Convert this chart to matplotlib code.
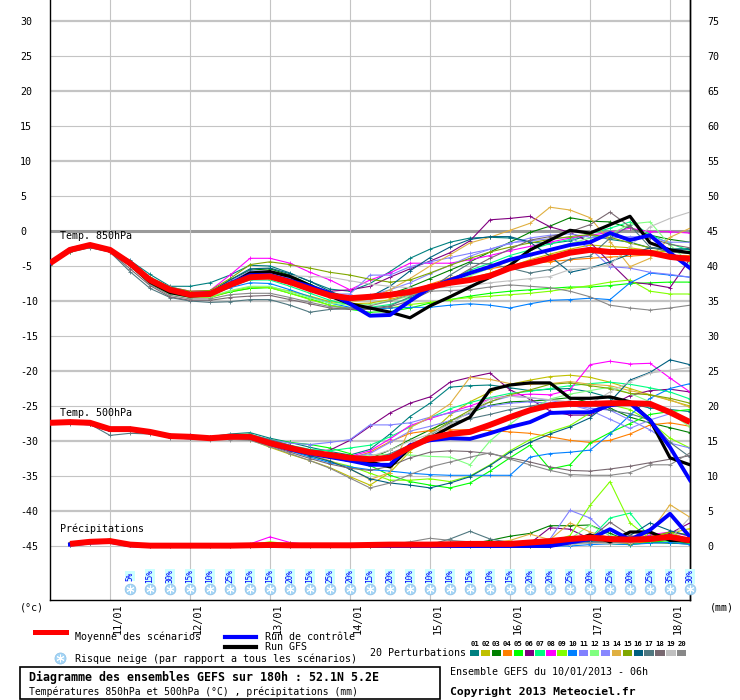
import numpy as np
import matplotlib
matplotlib.use('Agg')
import matplotlib.pyplot as plt
from matplotlib.transforms import ScaledTranslation
from matplotlib.lines import Line2D
from matplotlib.patches import Rectangle

plt.rcParams['font.family'] = ['DejaVu Sans Mono']
plt.rcParams['axes.unicode_minus'] = False

nan = np.nan
hours = np.arange(33) * 6  # from 10/01 06h, 6-hourly to 18/01 06h
day_hours = [18, 42, 66, 90, 114, 138, 162, 186]
day_labels = ['11/01', '12/01', '13/01', '14/01', '15/01', '16/01', '17/01', '18/01']

member_colors = ['#008080', '#c0c000', '#008000', '#ff8000', '#00ff00', '#800080', '#00ff80',
                 '#ff00ff', '#80ff00', '#0080ff', '#8080ff', '#80ff80', '#8888ff', '#e0b040',
                 '#80a800', '#006080', '#507880', '#786870', '#c0c0c0', '#888888']

# ---------------- Temperature 850 hPa (°C) ----------------
t850_mean = [-4.6, -2.7, -2.0, -2.7, -4.6, -7.0, -8.4, -9.1, -9.0, -7.7, -6.6, -6.5, -7.3, -8.3, -9.2, -9.6, -9.4,
             -9.1, -8.7, -8.0, -7.4, -7.0, -6.4, -5.3, -4.6, -3.9, -3.1, -2.7, -3.0, -3.0, -3.1, -3.7, -4.0]
t850_ctrl = [-4.6, -2.6, -2.0, -2.7, -4.6, -7.0, -8.3, -9.0, -8.9, -7.5, -6.3, -6.3, -7.1, -7.9, -8.9, -10.4, -12.1,
             -12.0, -10.0, -8.1, -7.0, -6.0, -5.1, -4.1, -3.4, -2.7, -2.0, -1.6, -0.3, -1.3, -0.6, -3.1, -5.3]
t850_gfs = [-4.6, -2.6, -2.0, -2.7, -4.8, -7.3, -8.8, -9.3, -9.1, -7.6, -6.0, -5.8, -6.5, -7.8, -9.3, -10.4, -11.0,
            -11.6, -12.4, -10.7, -9.4, -8.0, -6.6, -4.9, -2.7, -1.3, 0.1, -0.3, 0.9, 2.1, -1.7, -2.7, -3.1]

t850_m01 = [-4.5, -2.5, -2.0, -2.6, -4.2, -6.2, -7.9, -7.9, -7.4, -6.3, -4.9, -5.0, -6.0, -7.2, -8.3, -8.6, -7.5, -5.8, -3.9, -2.6, -1.6, -1.0, -0.9, -1.0, -1.6, -1.8, -1.4, -0.6, -1.2, -1.6, -2.4, -2.6, -2.5]
t850_m02 = [-4.6, -2.7, -2.1, -2.8, -4.8, -7.5, -8.9, -9.4, -9.5, -8.7, -8.2, -8.0, -8.6, -9.3, -10.1, -10.4, -10.3, -9.8, -9.0, -8.3, -7.5, -6.8, -6.0, -5.1, -4.1, -3.3, -2.6, -2.0, -2.2, -2.4, -2.8, -3.0, -3.2]
t850_m03 = [-4.5, -2.6, -2.0, -2.7, -4.5, -6.8, -8.2, -8.8, -8.7, -7.0, -5.6, -5.4, -6.3, -7.6, -8.8, -9.5, -9.6, -9.0, -8.0, -6.8, -5.6, -4.4, -3.0, -1.6, -0.2, 0.7, 1.9, 1.4, 1.3, 0.4, -0.6, -1.2, -1.6]
t850_m04 = [-4.6, -2.6, -1.9, -2.6, -4.5, -6.9, -8.4, -9.2, -9.2, -7.8, -6.7, -6.5, -7.2, -8.0, -8.8, -9.4, -9.7, -9.5, -8.8, -7.6, -6.7, -6.0, -5.4, -4.9, -4.6, -4.4, -4.1, -3.9, -3.7, -3.6, -3.4, -3.5, -3.5]
t850_m05 = [-4.8, -3.0, -2.3, -2.8, -4.8, -7.4, -8.9, -9.4, -9.4, -8.7, -8.2, -8.1, -8.9, -9.7, -10.6, -11.2, -11.6, -11.5, -11.0, -10.3, -9.8, -9.3, -8.9, -8.6, -8.4, -8.2, -8.0, -8.0, -7.8, -7.5, -7.4, -7.3, -7.3]
t850_m06 = [-4.6, -2.6, -2.0, -2.7, -4.6, -6.9, -8.3, -9.0, -9.0, -7.8, -6.8, -6.8, -7.6, -8.3, -8.6, -8.4, -7.9, -6.6, -5.4, -4.3, -3.1, -1.4, 1.6, 1.8, 2.1, 0.6, -0.2, -1.6, -4.5, -7.3, -7.6, -8.1, -4.0]
t850_m07 = [-4.6, -2.7, -2.1, -2.7, -4.6, -7.1, -8.6, -9.2, -9.1, -7.9, -7.0, -7.0, -7.9, -8.9, -9.9, -10.6, -10.9, -10.5, -9.6, -8.3, -7.0, -5.6, -4.6, -3.5, -2.7, -1.8, -1.2, -0.4, 0.4, 1.3, -0.5, -1.8, -2.8]
t850_m08 = [-4.6, -2.6, -2.0, -2.6, -4.4, -6.7, -8.0, -8.6, -8.5, -6.3, -3.9, -3.9, -4.6, -5.9, -7.0, -8.4, -7.0, -6.0, -4.6, -4.6, -4.6, -4.1, -3.5, -2.8, -2.2, -1.6, -1.0, -0.6, -0.2, 0.4, -0.1, -0.1, -0.3]
t850_m09 = [-4.7, -2.8, -2.2, -2.8, -4.7, -7.2, -8.8, -9.5, -9.5, -8.6, -8.0, -8.1, -8.9, -9.8, -10.6, -11.0, -11.2, -11.0, -10.5, -10.2, -9.8, -9.5, -9.3, -9.1, -8.9, -8.6, -8.2, -7.8, -7.3, -7.0, -8.6, -9.0, -9.0]
t850_m10 = [-4.6, -2.7, -2.1, -2.8, -4.7, -7.1, -8.5, -9.2, -9.2, -8.1, -7.4, -7.5, -8.4, -9.4, -10.3, -10.9, -11.2, -11.0, -10.9, -10.9, -10.6, -10.4, -10.6, -11.0, -10.4, -9.9, -9.8, -9.6, -9.8, -7.4, -6.0, -6.3, -6.6]
t850_m11 = [-4.5, -2.5, -1.9, -2.6, -4.3, -6.6, -8.0, -8.7, -8.7, -7.4, -6.3, -6.5, -7.5, -8.4, -9.0, -9.0, -6.3, -6.3, -5.1, -4.4, -3.8, -3.2, -2.6, -1.7, -1.4, -1.1, -0.9, -2.5, -5.1, -5.3, -5.9, -6.2, -6.6]
t850_m12 = [-4.7, -2.9, -2.3, -2.9, -4.9, -7.6, -9.0, -9.5, -9.4, -8.5, -7.9, -7.9, -8.7, -9.5, -10.3, -10.6, -10.5, -10.0, -9.3, -8.4, -7.4, -6.4, -5.3, -4.3, -3.5, -2.6, -1.8, -1.0, -0.5, 1.0, 1.3, -2.0, -4.6]
t850_m13 = [-4.6, -2.6, -2.0, -2.7, -4.5, -6.8, -8.2, -8.9, -8.9, -7.2, -5.7, -5.8, -6.8, -7.9, -8.9, -9.6, -9.2, -8.4, -7.4, -6.1, -4.9, -3.6, -2.6, -1.8, -1.0, -0.6, -0.4, -0.9, -1.0, -0.8, -0.9, -1.6, -1.6]
t850_m14 = [-4.6, -2.5, -1.8, -2.6, -4.5, -7.0, -8.5, -9.2, -9.1, -7.9, -6.9, -6.8, -7.5, -8.4, -9.5, -10.2, -9.7, -8.4, -6.8, -5.0, -3.4, -1.7, -0.9, 0.1, 1.1, 3.4, 3.0, 1.9, -1.5, -5.1, -3.9, -0.9, 0.4]
t850_m15 = [-4.6, -2.6, -2.0, -2.6, -4.4, -6.6, -8.0, -8.6, -8.5, -6.8, -4.8, -4.4, -4.8, -5.3, -5.9, -6.3, -6.9, -7.3, -7.0, -6.0, -4.9, -3.9, -3.0, -2.3, -1.7, -1.2, -0.8, -0.5, -0.9, -1.7, -2.4, -2.9, -3.0]
t850_m16 = [-4.6, -2.6, -2.0, -2.7, -4.6, -7.0, -8.4, -9.0, -8.8, -7.0, -5.4, -5.3, -6.1, -7.2, -8.6, -9.7, -9.4, -7.9, -5.7, -3.8, -2.3, -1.2, -0.8, -0.8, -1.6, -3.6, -5.9, -5.3, -4.4, -3.3, -2.4, -2.6, -2.6]
t850_m17 = [-4.8, -3.0, -2.4, -3.0, -5.8, -8.2, -9.5, -10.0, -10.2, -10.1, -9.8, -9.8, -10.6, -11.6, -11.2, -11.1, -11.0, -10.7, -9.4, -8.3, -6.3, -4.6, -4.7, -5.3, -6.0, -5.5, -4.0, -3.6, -1.0, 0.8, -2.3, -3.0, -3.2]
t850_m18 = [-4.7, -2.9, -2.3, -3.0, -5.4, -7.8, -9.4, -9.9, -9.9, -9.5, -9.3, -9.2, -9.8, -10.4, -11.0, -11.2, -11.2, -10.8, -10.0, -8.6, -7.1, -5.4, -3.9, -2.6, -1.3, -0.8, -0.1, 0.9, 2.7, 0.6, -1.0, -1.9, -2.4]
t850_m19 = [-4.6, -2.7, -2.0, -2.7, -4.5, -6.8, -8.2, -8.8, -8.7, -7.3, -6.1, -6.2, -6.4, -6.5, -6.6, -7.1, -7.6, -7.9, -8.1, -8.2, -8.0, -7.8, -7.4, -7.1, -6.8, -6.5, -5.5, -5.3, -4.8, -2.2, 0.6, 1.8, 2.7]
t850_m20 = [-4.7, -2.9, -2.3, -2.9, -4.9, -7.6, -9.2, -9.7, -9.7, -9.1, -8.9, -8.9, -9.5, -10.2, -10.8, -11.0, -10.7, -10.0, -9.1, -8.6, -8.5, -8.4, -8.0, -7.7, -7.9, -8.1, -8.6, -9.4, -10.6, -11.0, -11.3, -11.0, -10.6]

# ---------------- Temperature 500 hPa (°C) ----------------
t500_mean = [-27.4, -27.3, -27.4, -28.3, -28.3, -28.7, -29.3, -29.4, -29.6, -29.4, -29.4, -30.3, -31.0, -31.6, -32.0, -32.4, -32.6,
             -32.4, -30.9, -29.6, -29.0, -28.7, -27.7, -26.6, -25.6, -24.9, -24.7, -24.7, -24.6, -24.6, -24.7, -25.9, -27.3]
t500_ctrl = [-27.4, -27.3, -27.5, -28.4, -28.3, -28.7, -29.3, -29.5, -29.6, -29.4, -29.5, -30.4, -31.2, -31.8, -32.3, -32.8, -33.4,
             -33.4, -30.6, -29.9, -29.6, -29.7, -28.9, -28.0, -27.3, -26.0, -25.9, -25.9, -24.9, -24.6, -27.0, -30.9, -35.6]
t500_gfs = [-27.4, -27.3, -27.4, -28.3, -28.4, -28.8, -29.3, -29.4, -29.6, -29.4, -29.3, -30.2, -31.0, -31.6, -32.2, -32.8, -33.0,
            -33.7, -31.0, -29.6, -28.0, -26.6, -22.7, -22.0, -21.7, -21.7, -23.9, -23.9, -23.7, -24.4, -27.0, -32.4, -33.4]

t500_m01 = [-27.5, -27.4, -27.3, -28.6, -28.5, -28.8, -29.2, -29.3, -29.4, -29.0, -28.8, -29.6, -30.2, -30.9, -31.5, -32.0, -31.2, -29.0, -26.5, -24.6, -22.3, -22.1, -22.0, -22.4, -22.8, -22.6, -22.5, -23.0, -23.8, -24.6, -25.3, -25.5, -25.8]
t500_m02 = [-27.3, -27.3, -27.4, -28.2, -28.3, -28.8, -29.4, -29.5, -29.7, -29.6, -29.8, -30.9, -31.9, -32.8, -33.8, -35.1, -36.3, -34.5, -31.5, -28.9, -26.3, -24.4, -23.0, -21.9, -21.3, -20.8, -20.6, -20.9, -21.6, -22.5, -23.4, -24.2, -25.0]
t500_m03 = [-27.4, -27.3, -27.4, -28.3, -28.4, -28.7, -29.2, -29.4, -29.6, -29.5, -29.5, -30.5, -31.2, -31.9, -32.4, -32.8, -32.5, -31.3, -29.8, -28.4, -27.1, -26.0, -24.9, -24.4, -24.3, -24.1, -23.8, -24.5, -25.3, -26.6, -27.4, -28.1, -28.8]
t500_m04 = [-27.4, -27.2, -27.3, -28.2, -28.3, -28.6, -29.2, -29.3, -29.4, -29.3, -29.2, -30.1, -30.8, -31.5, -32.1, -32.5, -31.6, -30.1, -28.9, -28.5, -28.4, -28.4, -28.5, -28.7, -28.9, -29.4, -29.9, -30.2, -29.9, -29.0, -27.7, -27.4, -27.9]
t500_m05 = [-27.6, -27.4, -27.5, -28.5, -28.4, -28.8, -29.3, -29.4, -29.6, -29.2, -29.1, -29.8, -30.2, -30.5, -31.0, -31.8, -33.5, -34.9, -35.8, -36.3, -36.7, -36.0, -34.3, -32.4, -30.6, -34.0, -33.4, -30.3, -28.8, -27.5, -26.2, -25.8, -25.5]
t500_m06 = [-27.3, -27.2, -27.3, -28.2, -28.2, -28.6, -29.1, -29.2, -29.4, -29.2, -29.3, -30.2, -30.8, -31.4, -31.3, -29.9, -27.9, -26.0, -24.6, -23.7, -21.6, -20.9, -20.3, -22.7, -24.0, -25.7, -26.3, -26.3, -25.0, -23.5, -22.8, -22.6, -23.0]
t500_m07 = [-27.4, -27.3, -27.4, -28.3, -28.2, -28.6, -29.2, -29.3, -29.5, -29.1, -29.0, -29.9, -30.6, -31.2, -31.4, -31.0, -30.6, -29.4, -28.0, -26.7, -25.4, -24.5, -23.8, -23.2, -22.9, -22.5, -22.1, -21.8, -21.6, -21.9, -22.4, -23.0, -24.0]
t500_m08 = [-27.4, -27.3, -27.3, -28.2, -28.3, -28.7, -29.3, -29.4, -29.5, -29.3, -29.3, -30.1, -30.9, -31.5, -32.0, -32.2, -31.4, -29.7, -27.8, -26.8, -25.9, -25.0, -24.0, -23.5, -23.3, -23.4, -22.7, -19.1, -18.6, -19.0, -18.9, -21.0, -23.0]
t500_m09 = [-27.5, -27.4, -27.5, -28.4, -28.4, -28.8, -29.4, -29.5, -29.6, -29.5, -29.6, -30.5, -31.3, -32.1, -32.9, -33.6, -34.6, -35.6, -35.6, -35.4, -35.8, -35.0, -33.4, -31.4, -29.8, -28.7, -27.8, -26.0, -24.8, -25.5, -27.2, -29.6, -31.0]
t500_m10 = [-27.4, -27.3, -27.4, -28.4, -28.3, -28.7, -29.3, -29.4, -29.6, -29.5, -29.6, -30.5, -31.4, -32.3, -33.1, -33.7, -34.1, -34.3, -34.6, -34.8, -34.9, -34.9, -34.9, -34.9, -32.3, -31.8, -31.6, -31.3, -29.0, -26.3, -23.9, -22.5, -21.8]
t500_m11 = [-27.4, -27.2, -27.3, -28.2, -28.2, -28.6, -29.2, -29.3, -29.5, -29.2, -29.1, -29.8, -30.3, -30.5, -30.2, -29.8, -27.7, -27.7, -27.4, -26.6, -26.0, -25.4, -25.0, -24.6, -24.4, -24.6, -24.9, -25.3, -25.6, -27.0, -28.4, -30.3, -31.0]
t500_m12 = [-27.4, -27.3, -27.4, -28.3, -28.4, -28.8, -29.3, -29.4, -29.6, -29.4, -29.4, -30.2, -30.9, -31.5, -32.0, -32.3, -32.0, -31.9, -32.0, -32.2, -32.3, -33.4, -30.0, -27.6, -25.5, -24.0, -23.3, -22.8, -22.3, -23.2, -24.4, -26.0, -28.0]
t500_m13 = [-27.4, -27.3, -27.4, -28.3, -28.3, -28.7, -29.3, -29.4, -29.6, -29.4, -29.4, -30.3, -31.0, -31.6, -32.0, -32.3, -31.8, -30.2, -28.6, -27.9, -27.1, -26.1, -24.4, -23.6, -23.8, -24.2, -24.8, -25.6, -26.9, -28.2, -27.0, -26.1, -27.0]
t500_m14 = [-27.4, -27.3, -27.3, -28.2, -28.3, -28.7, -29.3, -29.4, -29.6, -29.4, -29.4, -30.4, -31.2, -32.0, -32.8, -34.0, -35.5, -34.5, -28.1, -26.6, -24.7, -20.9, -21.2, -21.8, -21.9, -21.8, -21.5, -21.9, -22.1, -22.8, -23.4, -24.1, -25.2]
t500_m15 = [-27.4, -27.3, -27.4, -28.3, -28.3, -28.7, -29.3, -29.4, -29.6, -29.4, -29.4, -30.3, -31.0, -31.7, -32.2, -32.6, -32.8, -32.5, -30.8, -29.0, -27.2, -25.6, -24.4, -23.4, -22.7, -21.9, -21.7, -22.1, -22.5, -23.2, -23.4, -23.9, -24.6]
t500_m16 = [-27.5, -27.4, -27.5, -28.5, -28.5, -28.9, -29.4, -29.5, -29.7, -29.6, -29.6, -30.5, -31.3, -32.1, -32.9, -34.0, -35.4, -36.0, -36.3, -36.7, -36.0, -35.1, -33.5, -31.6, -30.2, -29.0, -28.0, -26.7, -24.4, -21.3, -20.2, -18.4, -19.1]
t500_m17 = [-27.6, -27.5, -27.6, -29.2, -28.9, -29.0, -29.5, -29.6, -29.7, -29.4, -29.2, -29.8, -30.6, -31.5, -32.2, -32.7, -32.8, -31.8, -30.6, -29.2, -27.4, -26.8, -26.2, -25.5, -25.0, -24.6, -24.3, -24.8, -25.6, -26.1, -27.0, -30.2, -32.3]
t500_m18 = [-27.5, -27.4, -27.5, -28.5, -28.5, -28.9, -29.4, -29.5, -29.7, -29.6, -29.7, -30.7, -31.6, -32.5, -33.3, -33.9, -34.2, -33.6, -32.4, -31.6, -31.4, -31.5, -31.8, -32.4, -33.0, -33.7, -34.2, -34.3, -34.0, -33.6, -33.1, -32.6, -32.1]
t500_m19 = [-27.4, -27.3, -27.4, -28.3, -28.3, -28.7, -29.3, -29.4, -29.6, -29.4, -29.4, -30.2, -31.0, -31.7, -32.3, -32.8, -32.2, -31.3, -30.0, -29.0, -27.6, -25.8, -24.0, -23.6, -23.8, -24.1, -24.4, -24.7, -23.0, -21.5, -20.3, -19.9, -19.5]
t500_m20 = [-27.5, -27.4, -27.5, -28.4, -28.5, -28.9, -29.4, -29.6, -29.8, -29.8, -29.9, -30.8, -31.8, -32.8, -33.9, -35.3, -36.7, -36.0, -34.8, -33.7, -33.0, -32.3, -31.7, -32.6, -33.4, -34.2, -34.8, -34.9, -34.9, -34.5, -33.4, -33.4, -31.7]

# ---------------- Precipitation (mm / 6h) ----------------
pr_mean = [nan, 0.3, 0.6, 0.7, 0.2, 0.05, 0.05, 0.05, 0.05, 0.05, 0.1, 0.15, 0.1, 0.1, 0.1, 0.1, 0.15, 0.2, 0.2, 0.2, 0.25,
           0.3, 0.3, 0.3, 0.5, 0.7, 1.0, 1.2, 1.0, 0.9, 1.0, 1.3, 0.8]
pr_ctrl = [nan, 0.2, 0.5, 0.6, 0.1, 0, 0, 0, 0, 0, 0, 0, 0, 0, 0, 0, 0, 0, 0, 0, 0, 0, 0, 0, 0, 0, 0.5, 1.0, 2.4, 0.9, 2.3, 4.6, 1.3]
pr_gfs = [nan, 0.3, 0.6, 0.8, 0.2, 0, 0, 0, 0, 0, 0, 0, 0, 0, 0, 0, 0, 0, 0, 0, 0, 0, 0, 0, 0, 0, 0.6, 1.6, 0.6, 2.0, 2.0, 0.8, 0.7]

pr_m01 = [nan, 0.3, 0.7, 0.8, 0.1, 0, 0, 0, 0, 0, 0, 0, 0, 0, 0, 0, 0, 0, 0, 0, 0, 0, 0, 0, 0, 0.2, 0.3, 0.6, 0.4, 0.3, 0.8, 1.2, 0.6]
pr_m02 = [nan, 0.2, 0.5, 0.6, 0.2, 0, 0, 0, 0, 0, 0, 0, 0, 0, 0, 0, 0, 0, 0, 0, 0, 0, 0, 0, 0, 0, 0.3, 0.5, 0.8, 1.0, 1.4, 1.8, 2.5]
pr_m03 = [nan, 0.3, 0.6, 0.9, 0.3, 0, 0, 0, 0, 0, 0, 0, 0, 0, 0, 0, 0, 0, 0, 0, 0, 0.3, 0.8, 1.4, 1.8, 2.9, 2.9, 3.0, 1.8, 0.7, 0.5, 0.4, 0.3]
pr_m04 = [nan, 0.3, 0.5, 0.5, 0.1, 0, 0, 0, 0, 0, 0, 0, 0, 0, 0, 0, 0, 0.2, 0.2, 0.1, 0, 0, 0, 0, 0.1, 0.3, 0.5, 0.8, 0.6, 0.4, 0.6, 0.8, 0.5]
pr_m05 = [nan, 0.2, 0.4, 0.6, 0.2, 0, 0, 0, 0, 0, 0, 0, 0, 0, 0, 0, 0, 0, 0, 0, 0, 0, 0, 0, 0, 0, 0.2, 0.6, 0.3, 0.2, 0.5, 0.8, 0.4]
pr_m06 = [nan, 0.3, 0.7, 0.9, 0.3, 0, 0, 0, 0, 0, 0, 0, 0, 0, 0, 0, 0, 0, 0, 0, 0, 0, 0, 0, 0.4, 2.6, 2.4, 1.0, 0.6, 0.3, 1.2, 1.8, 3.3]
pr_m07 = [nan, 0.2, 0.6, 0.7, 0.2, 0, 0, 0, 0, 0, 0, 0, 0, 0, 0, 0, 0, 0, 0, 0, 0, 0, 0, 0, 0, 0.1, 0.4, 1.1, 4.0, 4.7, 1.2, 0.6, 0.5]
pr_m08 = [nan, 0.3, 0.6, 0.7, 0.2, 0, 0, 0, 0, 0, 0.3, 1.3, 0.5, 0.2, 0, 0, 0, 0, 0, 0, 0, 0, 0, 0, 0, 0, 0.3, 0.6, 0.5, 0.8, 1.6, 2.0, 1.4]
pr_m09 = [nan, 0.2, 0.5, 1.0, 0.2, 0, 0, 0, 0, 0, 0.2, 0.6, 0.3, 0.2, 0.2, 0, 0, 0, 0, 0, 0, 0, 0, 0, 0, 0.5, 1.5, 5.8, 9.2, 3.3, 1.0, 2.0, 0.8]
pr_m10 = [nan, 0.2, 0.5, 0.6, 0.1, 0, 0, 0, 0, 0, 0, 0, 0, 0, 0, 0, 0, 0, 0, 0, 0, 0, 0, 0, 0, 0, 0, 0.2, 0.3, 0.2, 0.4, 0.5, 0.2]
pr_m11 = [nan, 0.3, 0.6, 0.7, 0.2, 0, 0, 0, 0, 0, 0, 0, 0, 0, 0, 0, 0, 0, 0, 0, 0, 0, 0, 0, 0.3, 1.0, 5.1, 4.0, 1.3, 0.5, 0.8, 1.0, 0.6]
pr_m12 = [nan, 0.3, 0.6, 0.8, 0.2, 0, 0, 0, 0, 0, 0, 0, 0, 0, 0, 0, 0, 0, 0, 0, 0, 0, 0, 0, 0, 0.3, 1.0, 3.0, 1.5, 1.0, 0.8, 1.5, 0.9]
pr_m13 = [nan, 0.2, 0.6, 0.7, 0.2, 0, 0, 0, 0, 0, 0, 0, 0, 0, 0, 0, 0, 0, 0, 0, 0, 0, 0, 0, 0, 0.2, 0.6, 1.5, 0.9, 0.6, 1.2, 1.6, 1.0]
pr_m14 = [nan, 0.3, 0.7, 0.8, 0.2, 0, 0, 0, 0, 0, 0, 0, 0, 0, 0, 0, 0, 0, 0, 0, 0.4, 0.5, 0.5, 0.8, 1.7, 0.9, 3.3, 2.0, 1.2, 0.8, 1.9, 5.9, 4.1]
pr_m15 = [nan, 0.3, 0.5, 0.6, 0.2, 0, 0, 0, 0, 0, 0, 0.3, 0.4, 0.2, 0, 0, 0, 0, 0, 0, 0, 0, 0, 0, 0, 0, 0.4, 0.8, 0.6, 0.3, 1.3, 2.0, 1.6]
pr_m16 = [nan, 0.2, 0.5, 0.7, 0.2, 0, 0, 0, 0, 0, 0, 0, 0, 0, 0, 0, 0, 0, 0, 0, 0, 0, 0, 0, 0, 0, 0.2, 0.7, 0.8, 1.5, 3.3, 2.2, 1.4]
pr_m17 = [nan, 0.3, 0.6, 0.7, 0.2, 0, 0, 0, 0, 0, 0, 0, 0, 0, 0, 0, 0, 0, 0, 0.2, 1.0, 2.1, 1.0, 0.5, 0.5, 0.4, 0.6, 0.5, 0.6, 0.9, 1.4, 1.2, 1.0]
pr_m18 = [nan, 0.2, 0.5, 0.6, 0.1, 0, 0, 0, 0, 0, 0, 0, 0, 0, 0, 0, 0, 0, 0, 0.3, 0.5, 0.5, 0.4, 0.3, 0.3, 0.3, 0.5, 1.0, 3.4, 1.5, 1.0, 1.6, 1.0]
pr_m19 = [nan, 0.2, 0.4, 0.5, 0.1, 0, 0, 0, 0, 0, 0, 0, 0, 0, 0, 0, 0, 0, 0, 0, 0, 0, 0, 0, 0, 0, 0.2, 0.4, 0.3, 0.5, 0.8, 1.0, 4.1]
pr_m20 = [nan, 0.3, 0.5, 0.6, 0.1, 0, 0, 0, 0, 0, 0, 0, 0, 0, 0, 0, 0, 0.2, 0.6, 1.1, 0.8, 0.6, 0.5, 0.3, 0.3, 0.3, 0.4, 0.5, 0.5, 0.6, 0.8, 1.1, 0.9]

# ---------------- Snow risk (%) ----------------
snow_hours = hours[4:]
snow_pct = [5, 15, 30, 15, 10, 25, 15, 15, 20, 15, 25, 20, 15, 20, 10, 10, 10, 15, 10, 15, 20, 20, 25, 20, 25, 20, 25, 35, 30]

t850_members = [t850_m01, t850_m02, t850_m03, t850_m04, t850_m05, t850_m06, t850_m07, t850_m08, t850_m09, t850_m10,
                t850_m11, t850_m12, t850_m13, t850_m14, t850_m15, t850_m16, t850_m17, t850_m18, t850_m19, t850_m20]
t500_members = [t500_m01, t500_m02, t500_m03, t500_m04, t500_m05, t500_m06, t500_m07, t500_m08, t500_m09, t500_m10,
                t500_m11, t500_m12, t500_m13, t500_m14, t500_m15, t500_m16, t500_m17, t500_m18, t500_m19, t500_m20]
pr_members = [pr_m01, pr_m02, pr_m03, pr_m04, pr_m05, pr_m06, pr_m07, pr_m08, pr_m09, pr_m10,
              pr_m11, pr_m12, pr_m13, pr_m14, pr_m15, pr_m16, pr_m17, pr_m18, pr_m19, pr_m20]

PR_OFFSET = -45.0  # precipitation 0 mm sits on -45 °C

W, H = 740, 700
fig = plt.figure(figsize=(W / 100, H / 100), dpi=100)
ax = fig.add_axes([50 / W, 100 / H, 640 / W, 600 / H])
ax.set_xlim(0, 192)
ax.set_ylim(30 - 579 / 7, 30 + 21 / 7)


def fp(x, y):
    return (x / W, 1 - y / H)


# grid
for v in range(-45, 31, 5):
    if v == 0:
        ax.axhline(v, color='#9a9a9a', lw=2.2, zorder=0)
    else:
        ax.axhline(v, color='#c4c4c4', lw=1.6 if v % 10 == 0 else 0.8, zorder=0)
for d in day_hours:
    ax.axvline(d, color='#c4c4c4', lw=0.8, zorder=0)

# members
mk = dict(marker='+', markersize=3, markeredgewidth=0.6, lw=0.8)
for c, a, b, p in zip(member_colors, t850_members, t500_members, pr_members):
    ax.plot(hours, a, color=c, zorder=2, **mk)
    ax.plot(hours, b, color=c, zorder=2, **mk)
    ax.plot(hours, np.array(p) + PR_OFFSET, color=c, zorder=2, **mk)

for series, offset in ((t850_gfs, 0), (t500_gfs, 0), (pr_gfs, PR_OFFSET)):
    ax.plot(hours, np.array(series) + offset, color='black', lw=2.3, zorder=3)
for series, offset in ((t850_ctrl, 0), (t500_ctrl, 0), (pr_ctrl, PR_OFFSET)):
    ax.plot(hours, np.array(series) + offset, color='#0000ff', lw=2.8, zorder=4)
for series, offset in ((t850_mean, 0), (t500_mean, 0), (pr_mean, PR_OFFSET)):
    ax.plot(hours, np.array(series) + offset, color='#ff0000', lw=4.3, zorder=5, solid_capstyle='butt')

# panel labels
ax.text(3, -0.75, 'Temp. 850hPa', fontsize=7.2, va='center', ha='left', zorder=6)
ax.text(3, -26.0, 'Temp. 500hPa', fontsize=7.2, va='center', ha='left', zorder=6)
ax.text(3, -42.6, 'Précipitations', fontsize=7.2, va='center', ha='left', zorder=6)

# snow risk
ax.scatter(snow_hours, [-51.1] * len(snow_hours), s=60, color='#a6d6f6', edgecolors='#8cc0e6', linewidths=0.5,
           zorder=6, clip_on=False)
ax.scatter(snow_hours, [-51.1] * len(snow_hours), s=26, marker=(6, 2, 0), color='white', linewidths=0.7,
           zorder=7, clip_on=False)
for h, pct in zip(snow_hours, snow_pct):
    ax.text(h, -49.3, f'{pct}%', rotation=90, fontsize=5.6, color='#0000ff', ha='center', va='center',
            zorder=7, bbox=dict(facecolor='#ccffff', edgecolor='none', pad=0.4))

# axes styling
for s in ('left', 'right', 'bottom'):
    ax.spines[s].set_color('black')
    ax.spines[s].set_linewidth(1.0)
ax.spines['top'].set_visible(False)

ax.set_yticks(list(range(-45, 31, 5)))
ax.tick_params(axis='y', length=0, pad=21.6, labelsize=7.2)
for lab in ax.get_yticklabels():
    lab.set_horizontalalignment('left')

sec = ax.secondary_yaxis('right', functions=(lambda c: c + 45, lambda m: m - 45))
sec.set_yticks(list(range(0, 76, 5)))
sec.tick_params(length=0, pad=12.2, labelsize=7.2)
sec.spines['right'].set_linewidth(1.0)

ax.set_xticks(day_hours)
ax.set_xticklabels(day_labels, rotation=90, va='top', ha='center', fontsize=7.4)
ax.tick_params(axis='x', length=0, pad=2.5)
shift = ScaledTranslation(0.08, 0, fig.dpi_scale_trans)
for lab in ax.get_xticklabels():
    lab.set_transform(lab.get_transform() + shift)

fig.text(*fp(20, 607), '(°c)', fontsize=7.2, va='center', ha='left')
fig.text(*fp(710, 607), '(mm)', fontsize=7.2, va='center', ha='left')

# legend
fig.add_artist(Line2D([35 / W, 66 / W], [1 - 632 / H] * 2, color='#ff0000', lw=3.6, transform=fig.transFigure))
fig.text(*fp(75, 637), 'Moyenne des scénarios', fontsize=7.2, va='center', ha='left')
fig.add_artist(Line2D([225 / W, 256 / W], [1 - 637 / H] * 2, color='#0000ff', lw=3.0, transform=fig.transFigure))
fig.text(*fp(265, 637), 'Run de contrôle', fontsize=7.2, va='center', ha='left')
fig.add_artist(Line2D([225 / W, 256 / W], [1 - 647 / H] * 2, color='black', lw=3.0, transform=fig.transFigure))
fig.text(*fp(265, 647), 'Run GFS', fontsize=7.2, va='center', ha='left')
fig.add_artist(Line2D([60 / W], [1 - 658 / H], marker='o', markersize=8, color='#a6d6f6', markeredgecolor='#8cc0e6',
                      markeredgewidth=0.5, transform=fig.transFigure))
fig.add_artist(Line2D([60 / W], [1 - 658 / H], marker=(6, 2, 0), markersize=5.5, color='white',
                      markeredgewidth=0.7, transform=fig.transFigure))
fig.text(*fp(75, 659), 'Risque neige (par rapport a tous les scénarios)', fontsize=7.2, va='center', ha='left')

fig.text(*fp(370, 653), '20 Perturbations', fontsize=7.2, va='center', ha='left')
for k, c in enumerate(member_colors):
    x0 = 470 + k * 10.9
    fig.add_artist(Rectangle(((x0) / W, 1 - 656 / H), 9.3 / W, 6 / H, facecolor=c, edgecolor='none',
                             transform=fig.transFigure))
    fig.text((x0 + 4.6) / W, 1 - 644 / H, f'{k + 1:02d}', fontsize=5.2, fontweight='bold', va='center', ha='center')

fig.add_artist(Rectangle((20 / W, 1 - 699 / H), 420 / W, 32 / H, fill=False, edgecolor='black', lw=1.2,
                         transform=fig.transFigure))
fig.text(*fp(29, 677), 'Diagramme des ensembles GEFS sur 180h : 52.1N 5.2E', fontsize=8.4, fontweight='bold',
         va='center', ha='left')
fig.text(*fp(29, 692), 'Températures 850hPa et 500hPa (°C) , précipitations (mm)', fontsize=7.0,
         va='center', ha='left')
fig.text(*fp(450, 672), 'Ensemble GEFS du 10/01/2013 - 06h', fontsize=7.2, va='center', ha='left')
fig.text(*fp(450, 692), 'Copyright 2013 Meteociel.fr', fontsize=8.2, fontweight='bold', va='center', ha='left')

fig.savefig('out.png', dpi=100)
